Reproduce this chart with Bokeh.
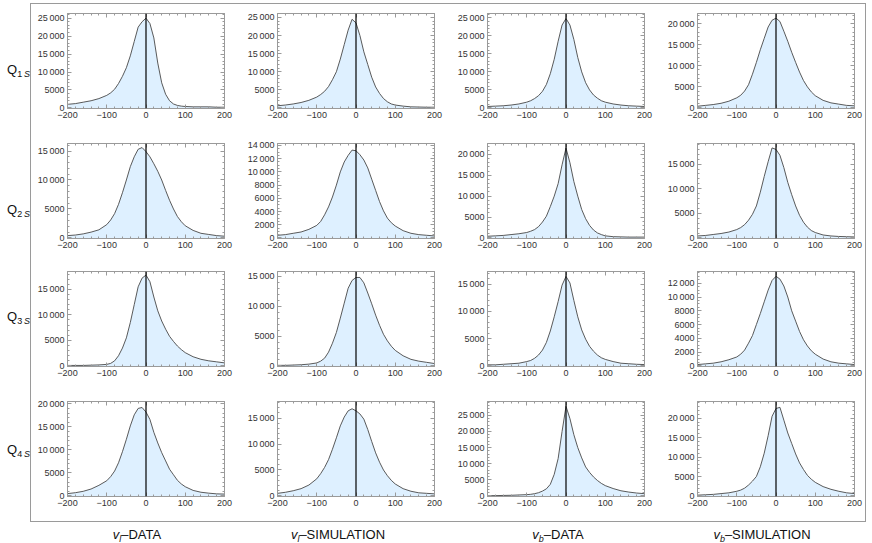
from bokeh.plotting import figure
from bokeh.layouts import gridplot, column, row
from bokeh.models import (Range1d, LinearAxis, FixedTicker, CustomJSTickFormatter,
                          CustomLabelingPolicy, Span, Div, ColumnDataSource)
from bokeh.embed import file_html
from bokeh.resources import INLINE

# ---------------- data ----------------
x_bins = [-200, -180, -160, -140, -120, -100, -90, -80, -70, -60, -50, -40, -30, -20, -10,
          0, 10, 20, 30, 40, 50, 60, 70, 80, 90, 100, 120, 140, 160, 180, 200]

q1_vl_data = [1000, 1200, 1600, 2000, 2600, 3500, 4200, 5200, 6800, 8800, 11200, 14500, 18500, 22500, 24000,
              25000, 23500, 19500, 12500, 7000, 3800, 2000, 1100, 700, 500, 400, 300, 300, 300, 200, 200]
q1_vl_sim = [600, 800, 1100, 1500, 2100, 3000, 3700, 4600, 5900, 7800, 10000, 13500, 17500, 21500, 24500,
             23500, 20000, 15500, 12000, 8500, 5800, 4000, 2600, 1700, 1100, 800, 500, 300, 250, 200, 200]
q1_vb_data = [400, 500, 600, 800, 1100, 1600, 2000, 2600, 3400, 4600, 6500, 9500, 13500, 18500, 23000,
              24800, 23000, 19000, 14000, 10000, 7000, 5000, 3600, 2700, 2000, 1600, 1100, 800, 600, 500, 400]
q1_vb_sim = [400, 600, 800, 1100, 1600, 2400, 3000, 4000, 5500, 8000, 10800, 13800, 16500, 19200, 20800,
             21300, 20500, 18200, 15800, 13200, 10800, 8500, 6500, 5000, 3800, 2900, 1800, 1200, 900, 600, 500]

q2_vl_data = [400, 500, 700, 1000, 1400, 2300, 3100, 4200, 5800, 7800, 10000, 12300, 14000, 15300, 15600,
              14900, 14000, 12800, 11500, 10000, 8200, 6500, 5000, 3700, 2800, 2100, 1300, 800, 600, 400, 300]
q2_vl_sim = [400, 500, 700, 900, 1300, 1900, 2500, 3500, 4700, 6200, 8000, 10000, 11500, 12500, 13300,
             13200, 12600, 11800, 10600, 8900, 7200, 5500, 4100, 3000, 2300, 1800, 1100, 700, 500, 400, 300]
q2_vb_data = [400, 500, 600, 800, 1000, 1300, 1600, 2000, 2700, 3800, 5200, 7500, 10000, 13000, 17500,
              21500, 18000, 13500, 10000, 6800, 4600, 3000, 1900, 1200, 800, 500, 300, 250, 200, 200, 200]
q2_vb_sim = [400, 500, 700, 900, 1200, 1700, 2100, 2700, 3600, 4800, 6500, 9300, 12500, 15500, 18300,
             18000, 16800, 14300, 11300, 8800, 6500, 4600, 3200, 2200, 1500, 1100, 600, 400, 300, 250, 200]

q3_vl_data = [100, 100, 100, 150, 200, 300, 500, 1000, 2000, 3500, 5500, 8500, 12000, 15500, 17200,
              17800, 16500, 13500, 10800, 8800, 7200, 5800, 4800, 3900, 3200, 2600, 1800, 1300, 1000, 800, 600]
q3_vl_sim = [100, 100, 150, 200, 300, 500, 800, 1300, 2300, 3800, 5600, 8000, 10500, 13000, 14300,
             14800, 14800, 13900, 12200, 10400, 8500, 6800, 5300, 4200, 3300, 2600, 1700, 1100, 800, 600, 400]
q3_vb_data = [200, 200, 300, 400, 500, 800, 1000, 1400, 2000, 2900, 4300, 6400, 9000, 11800, 14800,
              16400, 15200, 12000, 9000, 6600, 4900, 3600, 2700, 2000, 1500, 1200, 800, 500, 400, 300, 250]
q3_vb_sim = [200, 300, 400, 600, 900, 1300, 1700, 2300, 3300, 4400, 6000, 7600, 9300, 11000, 12400,
             13000, 12600, 11600, 10000, 8000, 6500, 5000, 3800, 2900, 2200, 1700, 1000, 600, 400, 300, 200]

q4_vl_data = [500, 700, 1000, 1500, 2300, 3300, 4200, 5400, 7200, 9600, 12300, 15200, 17600, 19000, 19200,
              18200, 16600, 13800, 11500, 9400, 7600, 5800, 4600, 3400, 2600, 2000, 1200, 800, 600, 450, 400]
q4_vl_sim = [500, 700, 1000, 1400, 2100, 3300, 4300, 5500, 7000, 9000, 11200, 13500, 15200, 16400, 16800,
             16400, 15800, 14800, 12800, 10500, 8300, 6500, 5000, 3900, 3000, 2300, 1400, 900, 600, 500, 400]
q4_vb_data = [100, 100, 150, 200, 300, 400, 500, 700, 1000, 1500, 2200, 3600, 6700, 11600, 20000,
              27800, 24000, 19000, 15000, 11800, 9000, 7300, 5900, 4800, 3900, 3200, 2300, 1600, 1200, 900, 700]
q4_vb_sim = [200, 300, 400, 600, 800, 1200, 1500, 2000, 2800, 3800, 5000, 7500, 11000, 15500, 20500,
             22500, 22800, 19500, 16200, 13500, 10800, 8500, 6800, 5300, 4300, 3500, 2400, 1700, 1200, 800, 600]

panel_values = [
    [q1_vl_data, q1_vl_sim, q1_vb_data, q1_vb_sim],
    [q2_vl_data, q2_vl_sim, q2_vb_data, q2_vb_sim],
    [q3_vl_data, q3_vl_sim, q3_vb_data, q3_vb_sim],
    [q4_vl_data, q4_vl_sim, q4_vb_data, q4_vb_sim],
]
y_top = [[26300, 26100, 26200, 22400],
         [16300, 14300, 22600, 19200],
         [18500, 15800, 17300, 13700],
         [20500, 18200, 29300, 24300]]
y_step = [[5000, 5000, 5000, 5000],
          [5000, 2000, 5000, 5000],
          [5000, 5000, 5000, 2000],
          [5000, 5000, 5000, 5000]]
x_major = [-200, -100, 0, 100, 200]
x_minor = [v for v in range(-200, 201, 20) if v not in x_major]

row_numbers = ["1", "2", "3", "4"]
col_vars = ["l", "l", "b", "b"]
col_kinds = ["DATA", "SIMULATION", "DATA", "SIMULATION"]

# ---------------- style ----------------
FRAME = "#9a9a9a"
FILL = "#DEF0FF"
LINE = "#474747"
FONT = "Liberation Sans"

ROW_BOTTOM = [26, 24, 26, 25]      # bottom borders -> row heights 130/128/130/129
COL_LEFT = [36, 37, 37, 37]
COL_RIGHT = [16, 16, 16, 11]


def tick_fmt():
    return CustomJSTickFormatter(code="""
const a = Math.abs(tick);
let s = a.toFixed(0);
if (a >= 10000) { s = s.slice(0, s.length - 3) + '\\u2009' + s.slice(-3); }
return (tick < 0 ? '\\u2212' : '') + s;
""")


def no_labels():
    return CustomLabelingPolicy(code="""
for (const i of [...indices]) { indices.unset(i) }
return indices
""")


def style_axis(ax, show):
    ax.axis_line_color = FRAME
    ax.major_tick_line_color = FRAME
    ax.minor_tick_line_color = FRAME
    ax.major_tick_in = 4
    ax.major_tick_out = 0
    ax.minor_tick_in = 2
    ax.minor_tick_out = 0
    if show:
        ax.formatter = tick_fmt()
        ax.major_label_text_font = FONT
        ax.major_label_text_font_size = "9px"
        ax.major_label_text_color = "#333333"
        ax.major_label_standoff = 3
    else:
        ax.major_label_policy = no_labels()
        ax.major_label_text_font_size = "1px"
        ax.major_label_standoff = 0


figs = []
for r in range(4):
    frow = []
    for c in range(4):
        vals = panel_values[r][c]
        top = y_top[r][c]
        step = y_step[r][c]
        yt = list(range(0, int(top) + 1, step))
        sub = step // 5 if step == 5000 else step // 4
        ym = [v for v in range(0, int(top) + 1, sub) if v not in yt]
        p = figure(frame_width=157, frame_height=95,
                   x_range=Range1d(-200, 200), y_range=Range1d(-0.006 * top, top),
                   output_backend="svg", toolbar_location=None, tools="",
                   min_border_left=COL_LEFT[c], min_border_right=COL_RIGHT[c],
                   min_border_top=9, min_border_bottom=ROW_BOTTOM[r])
        p.xgrid.visible = False
        p.ygrid.visible = False
        p.outline_line_color = FRAME
        p.background_fill_color = "white"
        p.border_fill_color = "white"
        p.xaxis[0].ticker = FixedTicker(ticks=x_major, minor_ticks=x_minor)
        p.yaxis[0].ticker = FixedTicker(ticks=yt, minor_ticks=ym)
        style_axis(p.xaxis[0], True)
        style_axis(p.yaxis[0], True)
        ax_top = LinearAxis(ticker=FixedTicker(ticks=x_major, minor_ticks=x_minor))
        style_axis(ax_top, False)
        p.add_layout(ax_top, "above")
        ax_right = LinearAxis(ticker=FixedTicker(ticks=yt, minor_ticks=ym))
        style_axis(ax_right, False)
        p.add_layout(ax_right, "right")

        src = ColumnDataSource(dict(x=x_bins, y=vals))
        p.varea(x="x", y1=0, y2="y", source=src, fill_color=FILL)
        p.line(x="x", y="y", source=src, line_color=LINE, line_width=0.9, line_join="round")
        p.add_layout(Span(location=0, dimension="height", line_color="black", line_width=1.2))
        frow.append(p)
    figs.append(frow)

grid = gridplot(figs, toolbar_location=None)
box = column(grid, styles={"border": "1px solid " + FRAME})
spacer = Div(text="", width=836, height=3, margin=0)

# row labels (page coordinates, left column starts at y = 0)
label_tops = [62, 202, 309, 442]
parts = []
for i, n in enumerate(row_numbers):
    parts.append(
        f'<div style="position:absolute;left:7px;top:{label_tops[i]}px;white-space:nowrap;'
        f'font-family:{FONT},Arial,sans-serif;font-size:13px;line-height:16px;color:#111;">'
        f'Q<span style="font-size:9px;position:relative;top:3px;">{n}&#8201;<i>S</i></span></div>')
left_html = '<div style="position:relative;width:30px;height:540px;">' + "".join(parts) + '</div>'
left = Div(text=left_html, width=30, height=540, margin=0)

# column labels
centers = [107, 308, 528, 732]
parts = []
for i in range(4):
    parts.append(
        f'<div style="position:absolute;left:{centers[i] - 110}px;top:5px;width:220px;text-align:center;'
        f'white-space:nowrap;font-family:{FONT},Arial,sans-serif;font-size:13px;line-height:15px;color:#111;">'
        f'<i>v</i><span style="font-size:9px;position:relative;top:3px;"><i>{col_vars[i]}</i></span>'
        f'&#8211;{col_kinds[i]}</div>')
bottom_html = '<div style="position:relative;width:836px;height:19px;">' + "".join(parts) + '</div>'
bottom = Div(text=bottom_html, width=836, height=19, margin=0)

layout = row(left, column(spacer, box, bottom))

with open("out.html", "w", encoding="utf-8") as f:
    f.write(file_html(layout, INLINE, title="histograms"))
